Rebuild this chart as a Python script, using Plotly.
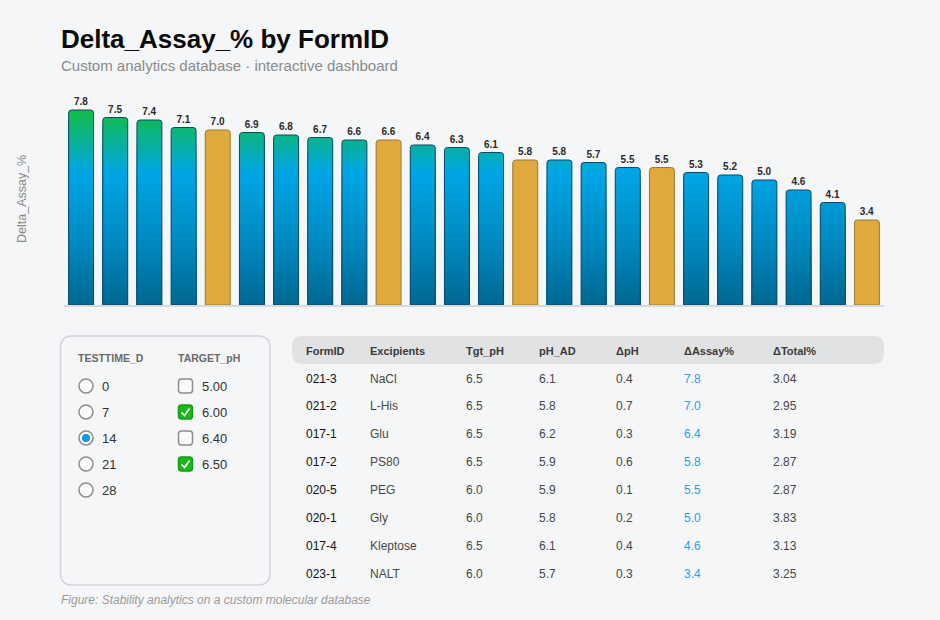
import plotly.graph_objects as go

# ---------------- data ----------------
bar_ids = [f"B{i+1:02d}" for i in range(24)]
delta_assay = [7.8, 7.5, 7.4, 7.1, 7.0, 6.9, 6.8, 6.7, 6.6, 6.6, 6.4, 6.3,
               6.1, 5.8, 5.8, 5.7, 5.5, 5.5, 5.3, 5.2, 5.0, 4.6, 4.1, 3.4]
highlight = [False, False, False, False, True, False, False, False, False, True, False, False,
             False, True, False, False, False, True, False, False, False, False, False, True]

testtime_options = ["0", "7", "14", "21", "28"]
testtime_selected = "14"
target_ph_options = ["5.00", "6.00", "6.40", "6.50"]
target_ph_checked = ["6.00", "6.50"]

table_headers = ["FormID", "Excipients", "Tgt_pH", "pH_AD", "ΔpH", "ΔAssay%", "ΔTotal%"]
form_ids = ["021-3", "021-2", "017-1", "017-2", "020-5", "020-1", "017-4", "023-1"]
excipients = ["NaCl", "L-His", "Glu", "PS80", "PEG", "Gly", "Kleptose", "NALT"]
tgt_ph = ["6.5", "6.5", "6.5", "6.5", "6.0", "6.0", "6.5", "6.0"]
ph_ad = ["6.1", "5.8", "6.2", "5.9", "5.9", "5.8", "6.1", "5.7"]
d_ph = ["0.4", "0.7", "0.3", "0.6", "0.1", "0.2", "0.4", "0.3"]
d_assay = ["7.8", "7.0", "6.4", "5.8", "5.5", "5.0", "4.6", "3.4"]
d_total = ["3.04", "2.95", "3.19", "2.87", "2.87", "3.83", "3.13", "3.25"]

# ---------------- style ----------------
BG = "#f5f6f8"
GOLD = "#dfa93d"
GOLD_LINE = "#9c7a2e"
BLUE_LINE = "#0b4b68"
FONT = "Liberation Sans, Arial, Helvetica, sans-serif"

W_FIG, H_FIG = 940, 620
L, R, T, B = 64, 884, 95, 305          # plot area in pixels
PW, PH = R - L, B - T


def px(x):
    return (x - L) / PW


def py(y):
    return (B - y) / PH


GRAD = [(0.0, (0, 104, 146)), (2.6, (0, 138, 194)), (5.3, (0, 166, 230)), (7.8, (18, 188, 68))]


def grad(v):
    v = max(GRAD[0][0], min(GRAD[-1][0], v))
    for (a, ca), (b, cb) in zip(GRAD[:-1], GRAD[1:]):
        if a <= v <= b:
            t = (v - a) / (b - a)
            c = [round(ca[k] + (cb[k] - ca[k]) * t) for k in range(3)]
            return f"rgb({c[0]},{c[1]},{c[2]})"
    return "rgb(0,166,230)"


fig = go.Figure()

BW = 0.73
blue_x = [x for x, h in zip(bar_ids, highlight) if not h]
blue_v = [v for v, h in zip(delta_assay, highlight) if not h]

# rounded full-height base of gradient bars
fig.add_trace(go.Bar(x=blue_x, y=blue_v, width=BW,
                     marker=dict(color=[grad(v - 0.15) for v in blue_v], cornerradius=3,
                                 line=dict(width=0)),
                     hoverinfo="skip", showlegend=False))

# gradient bands (each from 0 to its top, tallest first)
bx, by, bc = [], [], []
for x, v in zip(blue_x, blue_v):
    n = int(round(v * 10))
    for k in range(n - 3, 0, -1):
        top = k / 10
        bx.append(x)
        by.append(top)
        bc.append(grad(top - 0.05))
fig.add_trace(go.Bar(x=bx, y=by, width=BW,
                     marker=dict(color=bc, cornerradius=0, line=dict(width=0)),
                     hoverinfo="skip", showlegend=False))

# highlighted (gold) bars
gold_x = [x for x, h in zip(bar_ids, highlight) if h]
gold_v = [v for v, h in zip(delta_assay, highlight) if h]
fig.add_trace(go.Bar(x=gold_x, y=gold_v, width=BW,
                     marker=dict(color=GOLD, cornerradius=3, line=dict(width=0)),
                     hoverinfo="skip", showlegend=False))

# outlines + value labels
fig.add_trace(go.Bar(x=bar_ids, y=delta_assay, width=BW,
                     marker=dict(color="rgba(0,0,0,0)", cornerradius=3,
                                 line=dict(width=1, color=[GOLD_LINE if h else BLUE_LINE for h in highlight])),
                     text=[f"{v:.1f}" for v in delta_assay], textposition="outside",
                     textfont=dict(family=FONT, size=10, color="#2a2a2a", weight="bold"),
                     cliponaxis=False, name="Delta_Assay_%",
                     hovertemplate="%{y:.1f}<extra></extra>", showlegend=False))

shapes = []
annotations = []


def text(x, y, s, size=12, color="#444", bold=False, italic=False, anchor="left", angle=0):
    if anchor == "left":
        x -= 2   # compensate annotation padding
    annotations.append(dict(
        x=px(x), y=py(y), xref="paper", yref="paper", text=s, showarrow=False,
        xanchor=anchor, yanchor="middle", textangle=angle,
        font=dict(family=FONT, size=size, color=color,
                  weight="bold" if bold else "normal",
                  style="italic" if italic else "normal")))


def rrect_path(x0, y0, x1, y1, r):
    def P(x, y):
        return f"{px(x):.6f},{py(y):.6f}"
    return (f"M {P(x0 + r, y0)} L {P(x1 - r, y0)} Q {P(x1, y0)} {P(x1, y0 + r)} "
            f"L {P(x1, y1 - r)} Q {P(x1, y1)} {P(x1 - r, y1)} "
            f"L {P(x0 + r, y1)} Q {P(x0, y1)} {P(x0, y1 - r)} "
            f"L {P(x0, y0 + r)} Q {P(x0, y0)} {P(x0 + r, y0)} Z")


# titles
text(61, 39, "Delta_Assay_% by FormID", size=26, color="#0a0a0a", bold=True)
text(61, 65, "Custom analytics database · interactive dashboard", size=15, color="#8a8a8a")
text(22, 199, "Delta_Assay_%", size=12.5, color="#8a8a8a", anchor="center", angle=-90)
text(61, 600, "Figure: Stability analytics on a custom molecular database", size=12,
     color="#9a9a9a", italic=True)

# filter panel
shapes.append(dict(type="path", xref="paper", yref="paper",
                   path=rrect_path(60.5, 336, 270, 585, 12),
                   line=dict(color="#d3d5d9", width=1.5), fillcolor="rgba(0,0,0,0)"))
text(78, 358, "TESTTIME_D", size=10.5, color="#6a6a6a", bold=True)
text(178, 358, "TARGET_pH", size=10.5, color="#6a6a6a", bold=True)

for i, opt in enumerate(testtime_options):
    cy = 386 + 26 * i
    cx = 86
    shapes.append(dict(type="circle", xref="paper", yref="paper",
                       x0=px(cx - 7), x1=px(cx + 7), y0=py(cy + 7), y1=py(cy - 7),
                       line=dict(color="#8d8d8d", width=1.5), fillcolor="#fbfbfc"))
    if opt == testtime_selected:
        shapes.append(dict(type="circle", xref="paper", yref="paper",
                           x0=px(cx - 4), x1=px(cx + 4), y0=py(cy + 4), y1=py(cy - 4),
                           line=dict(width=0), fillcolor="#0a9ae0"))
    text(102, cy, opt, size=13, color="#333")

for i, opt in enumerate(target_ph_options):
    cy = 386 + 26 * i
    cx = 185.5
    checked = opt in target_ph_checked
    shapes.append(dict(type="path", xref="paper", yref="paper",
                       path=rrect_path(cx - 7, cy - 7, cx + 7, cy + 7, 3),
                       line=dict(color="#149a14" if checked else "#8d8d8d", width=1.5),
                       fillcolor="#1bb81b" if checked else "#fbfbfc"))
    if checked:
        shapes.append(dict(type="path", xref="paper", yref="paper",
                           path=(f"M {px(cx - 4):.6f},{py(cy + 0.5):.6f} "
                                 f"L {px(cx - 1):.6f},{py(cy + 3.5):.6f} "
                                 f"L {px(cx + 4):.6f},{py(cy - 3.5):.6f}"),
                           line=dict(color="white", width=1.6)))
    text(202, cy, opt, size=13, color="#333")

# table
shapes.append(dict(type="path", xref="paper", yref="paper",
                   path=rrect_path(292, 336, 884, 364, 10),
                   line=dict(width=0), fillcolor="#e1e2e4"))
col_x = [306, 370, 466, 539, 616, 684, 773]
for cx, h in zip(col_x, table_headers):
    text(cx, 350.5, h, size=11, color="#3a3a3a", bold=True)

columns = [form_ids, excipients, tgt_ph, ph_ad, d_ph, d_assay, d_total]
for ci, (cx, col) in enumerate(zip(col_x, columns)):
    for ri, val in enumerate(col):
        cy = 378.5 + 27.9 * ri
        if ci == 0:
            text(cx, cy, val, size=12, color="#111")
        elif ci == 5:
            text(cx, cy, val, size=12, color="#2f9fdc")
        else:
            text(cx, cy, val, size=12, color="#474747")

fig.update_layout(
    width=W_FIG, height=H_FIG,
    margin=dict(l=L, r=W_FIG - R, t=T, b=H_FIG - B, pad=0),
    paper_bgcolor=BG, plot_bgcolor=BG,
    barmode="overlay",
    showlegend=False,
    font=dict(family=FONT),
    xaxis=dict(type="category", categoryorder="array", categoryarray=bar_ids,
               range=[-0.5, len(bar_ids) - 0.5], showline=True, linecolor="#d7d9dd",
               linewidth=2, showticklabels=False, ticks="", showgrid=False, zeroline=False,
               fixedrange=True),
    yaxis=dict(range=[0, 8.4], showticklabels=False, showgrid=False, zeroline=False,
               showline=False, ticks="", fixedrange=True),
    shapes=shapes,
    annotations=annotations,
)

fig.write_html("out.html", config={"displayModeBar": False})
